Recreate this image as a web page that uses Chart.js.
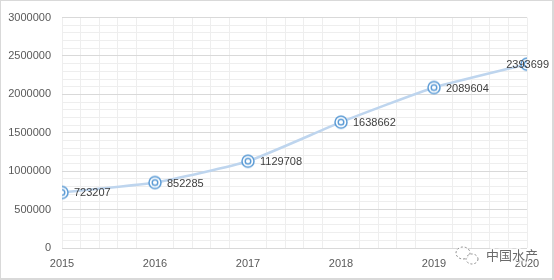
<!DOCTYPE html>
<html>
<head>
<meta charset="utf-8">
<script src="https://cdn.jsdelivr.net/npm/chart.js@4/dist/chart.umd.min.js"></script>
<style>
  html, body { margin: 0; padding: 0; background: #fff; }
  #wrap { position: relative; width: 554px; height: 280px; box-sizing: border-box; }
  #wrap:after { content: ""; position: absolute; left: 0; top: 0; right: 0; bottom: 0; border: 1px solid #d9d9d9; border-right-width: 2px; border-bottom-width: 2px; pointer-events: none; }
</style>
</head>
<body>
<div id="wrap"><canvas id="chart" width="554" height="280"></canvas></div>
<script>
// data
const years = [2015, 2016, 2017, 2018, 2019, 2020];
const output = [723207, 852285, 1129708, 1638662, 2089604, 2393699];
const yLabelStep = 500000;
const watermark = "中国水产";

const FONT = "'Liberation Sans', Arial, sans-serif";

// double ring marker
function makeMarker() {
  const c = document.createElement("canvas");
  c.width = 16;
  c.height = 16;
  const g = c.getContext("2d");
  g.fillStyle = "#ffffff";
  g.beginPath();
  g.arc(8, 8, 6, 0, Math.PI * 2);
  g.fill();
  g.strokeStyle = "#5b9bd5";
  g.lineWidth = 1.5;
  g.beginPath();
  g.arc(8, 8, 6, 0, Math.PI * 2);
  g.stroke();
  g.lineWidth = 1.4;
  g.beginPath();
  g.arc(8, 8, 2.8, 0, Math.PI * 2);
  g.stroke();
  return c;
}

const isInt = (v) => Math.abs(v - Math.round(v)) < 1e-6;

// value labels to the right of each point
const valueLabels = {
  id: "valueLabels",
  afterDatasetsDraw(chart) {
    const ctx = chart.ctx;
    const meta = chart.getDatasetMeta(0);
    ctx.save();
    ctx.font = "11px " + FONT;
    ctx.fillStyle = "#404040";
    ctx.textBaseline = "middle";
    ctx.textAlign = "left";
    meta.data.forEach((pt, i) => {
      const txt = String(output[i]);
      const w = ctx.measureText(txt).width;
      let x = pt.x + 12;
      if (x + w > chart.width - 5) x = chart.width - 5 - w;
      ctx.fillText(txt, x, pt.y + 1);
    });
    ctx.restore();
  },
};

// wechat style watermark in the corner
const markPlugin = {
  id: "markPlugin",
  afterDraw(chart) {
    const ctx = chart.ctx;
    ctx.save();
    ctx.strokeStyle = "#8a8a8a";
    ctx.fillStyle = "rgba(255,255,255,0.8)";
    ctx.lineWidth = 1;
    ctx.setLineDash([2, 2]);
    ctx.beginPath();
    ctx.ellipse(463, 253, 7, 6, 0, 0, Math.PI * 2);
    ctx.fill();
    ctx.stroke();
    ctx.beginPath();
    ctx.ellipse(472, 259, 6, 5, 0, 0, Math.PI * 2);
    ctx.fill();
    ctx.stroke();
    ctx.setLineDash([]);
    ctx.font = "13px 'Noto Sans CJK SC', sans-serif";
    ctx.textBaseline = "middle";
    ctx.lineWidth = 3;
    ctx.strokeStyle = "rgba(255,255,255,0.7)";
    ctx.strokeText(watermark, 486, 255);
    ctx.fillStyle = "rgba(80,80,80,0.85)";
    ctx.fillText(watermark, 486, 255);
    ctx.restore();
  },
};

new Chart(document.getElementById("chart"), {
  type: "line",
  data: {
    datasets: [
      {
        data: years.map((y, i) => ({ x: y, y: output[i] })),
        borderColor: "#bed5ee",
        borderWidth: 2.5,
        tension: 0.15,
        pointStyle: makeMarker(),
        pointRadius: 6,
        fill: false,
      },
    ],
  },
  options: {
    responsive: false,
    animation: false,
    layout: { padding: { top: 14, right: 27, left: 0, bottom: 0 } },
    plugins: {
      legend: { display: false },
      tooltip: { enabled: false },
    },
    scales: {
      x: {
        type: "linear",
        min: years[0],
        max: years[years.length - 1],
        afterFit: (s) => { s.height = 32; },
        border: { display: false },
        grid: {
          drawTicks: false,
          lineWidth: 1,
          color: (c) => {
            const v = c.tick.value;
            if (isInt(v) && v > years[0] && v < years[years.length - 1]) return "rgba(0,0,0,0)";
            return "#eeeeee";
          },
        },
        ticks: {
          stepSize: 0.2,
          autoSkip: false,
          maxRotation: 0,
          padding: 9,
          color: "#595959",
          font: { family: FONT, size: 11 },
          callback: (v) => (isInt(v) ? String(Math.round(v)) : ""),
        },
      },
      y: {
        min: 0,
        max: 3000000,
        afterFit: (s) => { s.width = 62; },
        border: { display: false },
        grid: {
          drawTicks: false,
          color: (c) => (c.tick.value % yLabelStep === 0 ? "#d9d9d9" : "#eeeeee"),
        },
        ticks: {
          stepSize: 100000,
          autoSkip: false,
          padding: 11,
          color: "#595959",
          font: { family: FONT, size: 11 },
          callback: (v) => (v % yLabelStep === 0 ? String(v) : ""),
        },
      },
    },
  },
  plugins: [valueLabels, markPlugin],
});
</script>
</body>
</html>
